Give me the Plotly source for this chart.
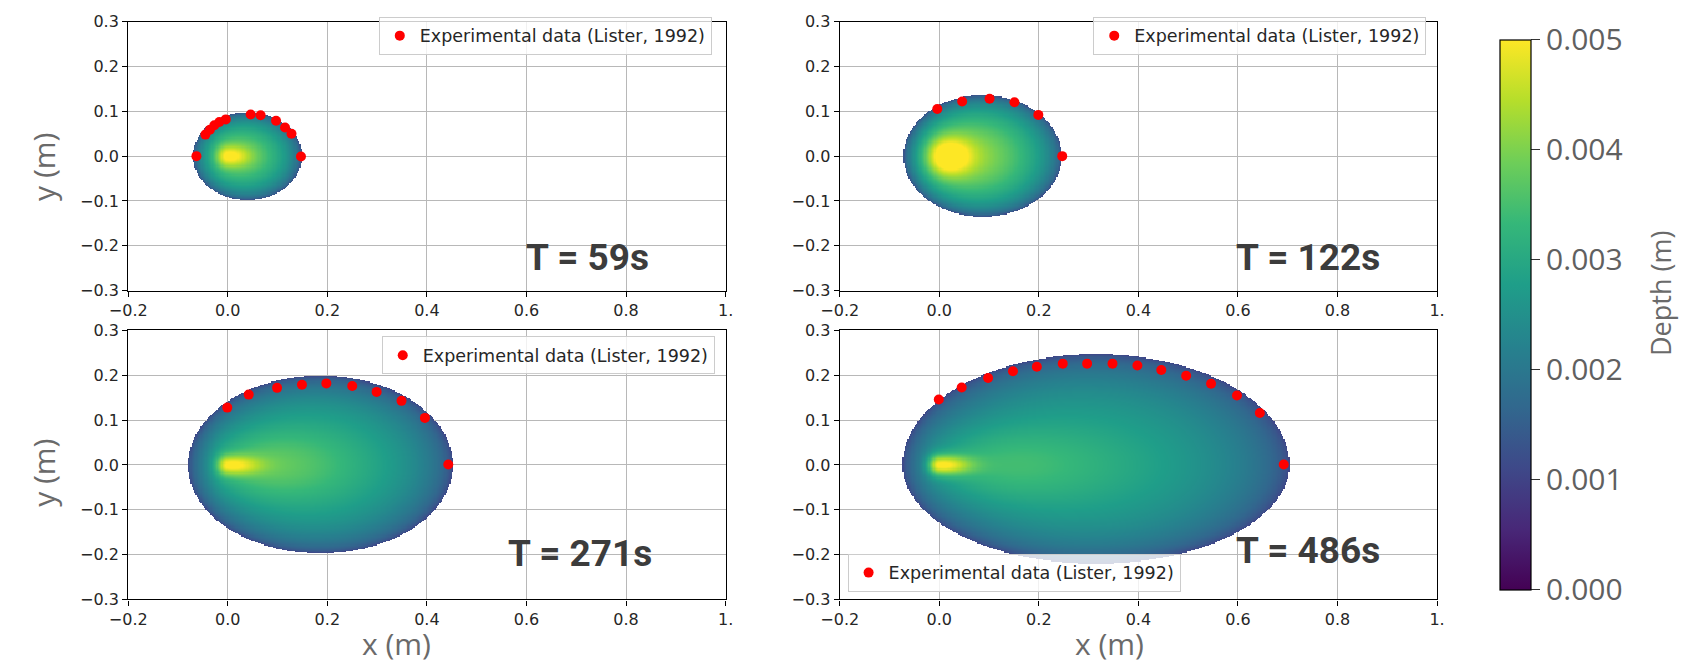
import numpy as np
import plotly.graph_objects as go

W, H = 1696, 660

# ---------------- data ----------------
time_labels = ["T = 59s", "T = 122s", "T = 271s", "T = 486s"]

# Experimental front positions (Lister, 1992)
exp_x_59 = [-0.063, -0.045, -0.036, -0.027, -0.017, -0.004, 0.046, 0.066, 0.097, 0.115, 0.128, 0.147]
exp_y_59 = [0.000, 0.048, 0.059, 0.069, 0.076, 0.082, 0.093, 0.091, 0.079, 0.064, 0.050, -0.001]
exp_x_122 = [-0.004, 0.046, 0.101, 0.151, 0.199, 0.247]
exp_y_122 = [0.105, 0.122, 0.128, 0.120, 0.092, 0.000]
exp_x_271 = [-0.001, 0.042, 0.099, 0.149, 0.198, 0.250, 0.299, 0.349, 0.396, 0.443]
exp_y_271 = [0.128, 0.157, 0.172, 0.179, 0.182, 0.176, 0.163, 0.143, 0.105, 0.001]
exp_x_486 = [-0.001, 0.045, 0.098, 0.148, 0.196, 0.248, 0.297, 0.348, 0.398, 0.446, 0.496, 0.546, 0.598, 0.644, 0.692]
exp_y_486 = [0.146, 0.173, 0.194, 0.209, 0.219, 0.226, 0.226, 0.226, 0.222, 0.212, 0.199, 0.181, 0.155, 0.116, 0.001]

# Simulated current: outline and depth levels (one entry per panel)
front_left = [-0.070, -0.072, -0.080, -0.074]
front_right = [0.150, 0.246, 0.452, 0.703]
half_width_up = [0.098, 0.136, 0.199, 0.247]
half_width_down = [0.098, 0.134, 0.196, 0.220]
edge_depth = [0.0011, 0.0011, 0.0010, 0.0010]
interior_back = [0.0036, 0.0038, 0.0033, 0.0031]
interior_front = [0.0032, 0.0034, 0.0029, 0.0027]
plume_extra = [0.0007, 0.0008, 0.0010, 0.0010]
plume_length = [0.08, 0.12, 0.20, 0.28]
plume_width = [0.05, 0.08, 0.08, 0.09]
source_depth = [0.0052, 0.0059, 0.0051, 0.0051]
source_x = [0.000, 0.015, 0.000, 0.000]
source_radius = [0.022, 0.040, 0.022, 0.022]
source_tail = [0.04, 0.045, 0.06, 0.06]

cbar_ticks = [0.000, 0.001, 0.002, 0.003, 0.004, 0.005]
x_ticks = [-0.2, 0.0, 0.2, 0.4, 0.6, 0.8, 1.0]
x_tick_text = ["\u22120.2", "0.0", "0.2", "0.4", "0.6", "0.8", "1."]
y_ticks = [-0.3, -0.2, -0.1, 0.0, 0.1, 0.2, 0.3]
y_tick_text = ["\u22120.3", "\u22120.2", "\u22120.1", "0.0", "0.1", "0.2", "0.3"]

exp_x = [exp_x_59, exp_x_122, exp_x_271, exp_x_486]
exp_y = [exp_y_59, exp_y_122, exp_y_271, exp_y_486]


def base_field(i, X, Y):
    xl, xr = front_left[i], front_right[i]
    xc = 0.5 * (xl + xr)
    a = 0.5 * (xr - xl)
    b = np.where(Y >= 0, half_width_up[i], half_width_down[i])
    r2 = ((X - xc) / a) ** 2 + (Y / b) ** 2
    s = np.clip(1 - r2, 0, 1)
    u = np.clip((X - xl) / (xr - xl), 0, 1)
    interior = interior_back[i] + (interior_front[i] - interior_back[i]) * u
    dx = X - source_x[i]
    lx = np.where(dx >= 0, plume_length[i], 0.7 * plume_width[i])
    broad = np.exp(-(dx / lx) ** 2 - (Y / plume_width[i]) ** 2)
    z = edge_depth[i] + (interior - edge_depth[i]) * s ** 0.55 + plume_extra[i] * broad * s ** 0.5
    return z, r2


def depth_field(i):
    gx = np.arange(front_left[i] - 0.004, front_right[i] + 0.004, 0.0025)
    gy = np.arange(-half_width_down[i] - 0.004, half_width_up[i] + 0.004, 0.0025)
    X, Y = np.meshgrid(gx, gy)
    z, r2 = base_field(i, X, Y)
    z_src, _ = base_field(i, np.array(source_x[i]), np.array(0.0))
    dx = X - source_x[i]
    lx = np.where(dx >= 0, source_tail[i], source_radius[i])
    core = np.exp(-(dx / lx) ** 2 - (Y / source_radius[i]) ** 2)
    z = z + (source_depth[i] - z_src) * core
    z = np.where(r2 <= 1, z, np.nan)
    return gx, gy, np.round(z, 7)


def px(v):
    return v / W


def py(v):
    return 1 - v / H


# panel rectangles in pixels: (left, right, top, bottom)
panels = [(111, 718, 13, 290), (834, 1441, 13, 290), (111, 718, 331, 608), (834, 1441, 331, 608)]

fig = go.Figure()
tick_font = dict(family="DejaVu Sans", size=16, color="#262626")

for i in range(4):
    sfx = "" if i == 0 else str(i + 1)
    xa, ya = "x" + sfx, "y" + sfx
    gx, gy, z = depth_field(i)
    fig.add_trace(go.Heatmap(x=gx, y=gy, z=z, coloraxis="coloraxis", xaxis=xa, yaxis=ya,
                             showscale=False, hoverinfo="skip"))
    fig.add_trace(go.Scatter(x=exp_x[i], y=exp_y[i], mode="markers", xaxis=xa, yaxis=ya,
                             marker=dict(color="#ff0000", size=10),
                             name="Experimental data (Lister, 1992)",
                             legend="legend" + sfx, showlegend=True))
    l, r, t, btm = panels[i]
    common = dict(showline=True, mirror=True, linecolor="black", linewidth=1.3,
                  ticks="outside", ticklen=5, tickwidth=1, tickcolor="black",
                  showgrid=True, gridcolor="#b8b8b8", gridwidth=1, zeroline=False,
                  tickfont=tick_font)
    fig.layout["xaxis" + sfx] = dict(domain=[px(l), px(r)], range=[-0.2, 1.0], anchor=ya,
                                     tickvals=x_ticks, ticktext=x_tick_text, **common)
    fig.layout["yaxis" + sfx] = dict(domain=[py(btm), py(t)], range=[-0.3, 0.3], anchor=xa,
                                     tickvals=y_ticks, ticktext=y_tick_text, **common)

leg_common = dict(bgcolor="rgba(255,255,255,0.8)", bordercolor="#cccccc", borderwidth=1,
                  font=dict(family="DejaVu Sans", size=17.5, color="#262626"))
fig.layout["legend"] = dict(x=px(704), y=py(8), xanchor="right", yanchor="top", **leg_common)
fig.layout["legend2"] = dict(x=px(1430), y=py(8), xanchor="right", yanchor="top", **leg_common)
fig.layout["legend3"] = dict(x=px(707), y=py(337), xanchor="right", yanchor="top", **leg_common)
fig.layout["legend4"] = dict(x=px(842), y=py(600), xanchor="left", yanchor="bottom", **leg_common)

annotations = []
t_pos = [(578, 256), (1310, 256), (570, 561), (1310, 558)]
for lab, (cx, cy) in zip(time_labels, t_pos):
    annotations.append(dict(text="<b>" + lab + "</b>", x=px(cx), y=py(cy), xref="paper", yref="paper",
                            xanchor="center", yanchor="middle", showarrow=False,
                            font=dict(family="Roboto", size=37, color="#3c3c3c")))
label_font = dict(family="Open Sans", size=30, color="#6a6a6a")
for cy in (163, 478):
    annotations.append(dict(text="y (m)", x=px(25), y=py(cy), xref="paper", yref="paper",
                            xanchor="center", yanchor="middle", textangle=-90, showarrow=False,
                            font=label_font))
for cx in (384, 1108):
    annotations.append(dict(text="x (m)", x=px(cx), y=py(630), xref="paper", yref="paper",
                            xanchor="center", yanchor="top", showarrow=False, font=label_font))
annotations.append(dict(text="Depth (m)", x=px(1668), y=py(293), xref="paper", yref="paper",
                        xanchor="center", yanchor="middle", textangle=-90, showarrow=False,
                        font=dict(family="Open Sans", size=27, color="#6a6a6a")))

fig.update_layout(
    width=W, height=H, margin=dict(l=0, r=0, t=0, b=0),
    paper_bgcolor="white", plot_bgcolor="white",
    annotations=annotations,
    coloraxis=dict(colorscale="Viridis", cmin=0, cmax=0.005,
                   colorbar=dict(thickness=31, thicknessmode="pixels", len=566 / H, lenmode="fraction",
                                 x=px(1505), xanchor="left", y=py(315), yanchor="middle",
                                 xpad=0, ypad=0, outlinewidth=1.2, outlinecolor="black",
                                 ticks="outside", ticklen=9, tickwidth=1, tickcolor="#333333",
                                 tickvals=cbar_ticks, ticktext=["%.3f" % v for v in cbar_ticks],
                                 tickfont=dict(family="Open Sans", size=30, color="#606060"))),
)

fig.write_html("out.html")
